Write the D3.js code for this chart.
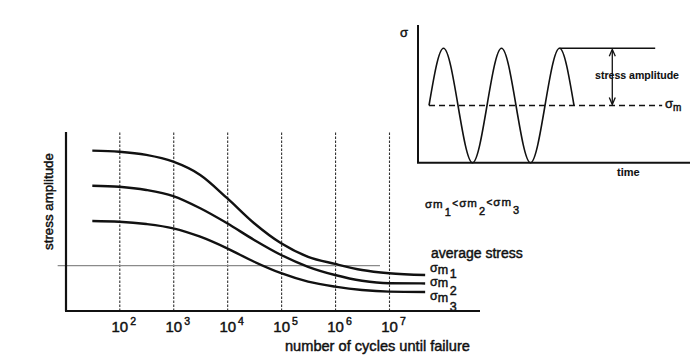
<!DOCTYPE html>
<html>
<head>
<meta charset="utf-8">
<script src="https://cdn.jsdelivr.net/npm/d3@7"></script>
<style>
  html, body { margin: 0; padding: 0; background: #fff; }
  svg { display: block; }
  text { font-family: "Liberation Sans", Arial, sans-serif; fill: #111; stroke: #111; stroke-width: 0.45px; }
</style>
</head>
<body>
<svg id="chart" width="692" height="359"></svg>
<script>
// ---------- data ----------
// number of cycles (x) for the S-N curves
const cycles = [31.6, 100, 316, 1000, 3162, 10000, 31623, 100000, 316228, 1000000, 3162278, 10000000, 46800000];
// stress amplitude (arbitrary units) for the three mean stresses
const sigmaM1 = [8.96, 8.90, 8.72, 8.34, 7.60, 6.30, 4.90, 3.78, 3.03, 2.63, 2.29, 2.11, 2.01];
const sigmaM2 = [7.00, 6.94, 6.76, 6.42, 5.74, 4.90, 3.97, 3.13, 2.47, 2.01, 1.69, 1.55, 1.54];
const sigmaM3 = [5.03, 4.99, 4.86, 4.62, 4.15, 3.50, 2.75, 2.11, 1.64, 1.36, 1.17, 1.08, 1.06];
const seriesNames = ["1", "2", "3"];
const tickCycles = [1e2, 1e3, 1e4, 1e5, 1e6, 1e7];
const refLine = { from: 7.2, to: 6.8e6, value: 2.53 };

// inset: stress vs time (in load periods)
const insetTime  = [0, 0.25, 0.5, 0.75, 1, 1.25, 1.5, 1.75, 2, 2.25, 2.5];
const insetSigma = [0, 1, 0, -1, 0, 1, 0, -1, 0, 1, 0];
const insetMeanEnd = 4.02;
const insetPeakLineEnd = 3.90;
const insetArrowAt = 3.16;

// ---------- main chart ----------
const svg = d3.select("#chart");
const x = d3.scaleLog().domain([1e2, 1e7]).range([119.3, 389]);
const y = d3.scaleLinear().domain([0, 10]).range([311, 132]);
const axisLeftX = 66, axisRightX = 480;

// vertical dashed grid lines via axis
const gridAxis = d3.axisBottom(x).tickValues(tickCycles).tickSize(y(10) - y(0)).tickFormat("");
const gridG = svg.append("g").attr("transform", `translate(0,${y(0)})`).call(gridAxis);
gridG.select(".domain").remove();
gridG.selectAll(".tick line")
  .attr("stroke", "#333").attr("stroke-width", 1.1).attr("stroke-dasharray", "2.5,1.5");

// tick labels 10^n
const lbl = svg.append("g").selectAll("text").data(tickCycles).join("text")
  .attr("x", d => x(d) - 7.8).attr("y", 332).style("font-size", "15px");
lbl.append("tspan").text("10");
lbl.append("tspan").attr("dx", 2).attr("dy", -7).style("font-size", "10.5px")
  .text(d => Math.round(Math.log10(d)));

// reference horizontal line
svg.append("line")
  .attr("x1", x(refLine.from)).attr("x2", x(refLine.to))
  .attr("y1", y(refLine.value)).attr("y2", y(refLine.value))
  .attr("stroke", "#8a8a8a").attr("stroke-width", 1.3);

// axes
svg.append("line").attr("x1", axisLeftX).attr("x2", axisLeftX).attr("y1", y(10)).attr("y2", y(0))
  .attr("stroke", "#111").attr("stroke-width", 2.2);
svg.append("line").attr("x1", axisLeftX - 1).attr("x2", axisRightX).attr("y1", y(0)).attr("y2", y(0))
  .attr("stroke", "#111").attr("stroke-width", 2.2);

// curves
const line = d3.line().x((d, i) => x(cycles[i])).y(d => y(d)).curve(d3.curveMonotoneX);
const allSeries = [sigmaM1, sigmaM2, sigmaM3];
svg.append("g").selectAll("path").data(allSeries).join("path")
  .attr("d", line).attr("fill", "none").attr("stroke", "#111").attr("stroke-width", 2.4);

// axis titles
svg.append("text").attr("transform", "translate(53,201.5) rotate(-90)")
  .attr("text-anchor", "middle").style("font-size", "13.3px").text("stress amplitude");
svg.append("text").attr("x", 285).attr("y", 351).style("font-size", "14.6px")
  .text("number of cycles until failure");

// legend
svg.append("text").attr("x", 431).attr("y", 258).style("font-size", "14px").text("average stress");
const sigBase = [272, 285.5, 300];
const digBase = [277.5, 295, 311];
seriesNames.forEach((n, i) => {
  const t = svg.append("text").attr("x", 430).attr("y", sigBase[i]).style("font-size", "12.5px");
  t.append("tspan").text("σ");
  t.append("tspan").attr("dy", 1.5).text("m");
  t.append("tspan").attr("dx", 1.5).attr("dy", digBase[i] - sigBase[i] - 1.5).style("font-size", "12.5px").text(n);
});

// inequality
const ineq = svg.append("text").attr("x", 425).attr("y", 208).style("font-size", "11.5px");
seriesNames.forEach((n, i) => {
  ineq.append("tspan").attr("dx", i === 0 ? 0 : 1).text("σ");
  ineq.append("tspan").attr("dx", 1).text("m");
  ineq.append("tspan").attr("dx", 2).attr("dy", 8).style("font-size", "11px").text(n);
  if (i < 2) ineq.append("tspan").attr("dx", 1.5).attr("dy", -9).style("font-size", "10px").text("<");
  else ineq.append("tspan").attr("dy", -8).text("");
  if (i < 2) ineq.append("tspan").attr("dy", 1).text("");
});

// ---------- inset ----------
const tx = d3.scaleLinear().domain([-0.19, 4.5]).range([418, 690]);
const sy = d3.scaleLinear().domain([-1, 1]).range([162.7, 48.3]);
const insetTop = 25;
const ins = svg.append("g");
ins.append("line").attr("x1", tx(-0.19)).attr("x2", tx(-0.19)).attr("y1", insetTop).attr("y2", sy(-1))
  .attr("stroke", "#111").attr("stroke-width", 2);
ins.append("line").attr("x1", tx(-0.19) - 1).attr("x2", tx(4.5)).attr("y1", sy(-1)).attr("y2", sy(-1))
  .attr("stroke", "#111").attr("stroke-width", 2);
// mean line
ins.append("line").attr("x1", tx(0)).attr("x2", tx(insetMeanEnd)).attr("y1", sy(0)).attr("y2", sy(0))
  .attr("stroke", "#111").attr("stroke-width", 1.4).attr("stroke-dasharray", "6,4");
// sine
const sine = d3.line().x((d, i) => tx(insetTime[i])).y(d => sy(d)).curve(d3.curveNatural);
ins.append("path").attr("d", sine(insetSigma)).attr("fill", "none").attr("stroke", "#111").attr("stroke-width", 1.6);
// peak line
ins.append("line").attr("x1", tx(2.25)).attr("x2", tx(insetPeakLineEnd)).attr("y1", sy(1)).attr("y2", sy(1))
  .attr("stroke", "#111").attr("stroke-width", 1.4);
// arrow
const ax = tx(insetArrowAt);
ins.append("line").attr("x1", ax).attr("x2", ax).attr("y1", sy(1) + 2).attr("y2", sy(0) - 2)
  .attr("stroke", "#111").attr("stroke-width", 1.3);
ins.append("path").attr("d", `M${ax - 3},${sy(1) + 8} L${ax},${sy(1) + 1} L${ax + 3},${sy(1) + 8}`)
  .attr("fill", "none").attr("stroke", "#111").attr("stroke-width", 1.3);
ins.append("path").attr("d", `M${ax - 3},${sy(0) - 8} L${ax},${sy(0) - 1} L${ax + 3},${sy(0) - 8}`)
  .attr("fill", "none").attr("stroke", "#111").attr("stroke-width", 1.3);
// inset labels
ins.append("text").attr("x", 637).attr("y", 79).attr("text-anchor", "middle")
  .attr("textLength", 84).attr("lengthAdjust", "spacingAndGlyphs")
  .style("font-size", "11px").style("font-weight", "bold").style("stroke-width", "0.1px").text("stress amplitude");
ins.append("text").attr("x", 400).attr("y", 37).style("font-size", "13px").text("σ");
ins.append("text").attr("x", 617).attr("y", 176).style("font-size", "11px").style("font-weight", "bold").style("stroke-width", "0.1px").text("time");
const sm = ins.append("text").attr("x", 665).attr("y", 108).style("font-size", "13px");
sm.append("tspan").text("σ");
sm.append("tspan").attr("dy", 3).style("font-size", "10px").text("m");
</script>
</body>
</html>
